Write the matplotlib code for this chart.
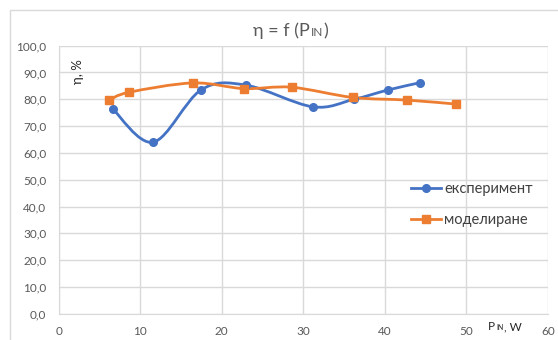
"""Efficiency vs input power: experiment vs model (Excel-style smoothed lines)."""
import matplotlib
matplotlib.use("Agg")
import matplotlib.pyplot as plt
import numpy as np
from matplotlib.path import Path
from matplotlib.patches import PathPatch, Rectangle
from matplotlib.lines import Line2D
from matplotlib.offsetbox import TextArea, HPacker, AnchoredOffsetbox

# --- data ------------------------------------------------------------------
exp_p = [6.6, 11.6, 17.45, 22.95, 31.15, 36.2, 40.4, 44.3]
exp_eta = [76.5, 64.0, 83.5, 85.3, 77.2, 80.0, 83.5, 86.2]

mod_p = [6.15, 8.6, 16.45, 22.7, 28.55, 36.05, 42.75, 48.75]
mod_eta = [79.6, 82.6, 86.1, 84.0, 84.5, 80.7, 79.7, 78.2]

x_ticks = [0, 10, 20, 30, 40, 50, 60]
y_ticks = [0, 10, 20, 30, 40, 50, 60, 70, 80, 90, 100]

BLUE = "#4472C4"
ORANGE = "#ED7D31"
TXT = "#595959"
GRID = "#D9D9D9"

plt.rcParams["font.family"] = ["Lato", "DejaVu Sans"]


def smooth_path(xs, ys, tension=1 / 6):
    """Bezier path through the points, like Excel's 'smoothed line'."""
    pts = np.column_stack([xs, ys])
    verts = [pts[0]]
    codes = [Path.MOVETO]
    n = len(pts)
    for i in range(n - 1):
        p0 = pts[i - 1] if i > 0 else pts[i]
        p1, p2 = pts[i], pts[i + 1]
        p3 = pts[i + 2] if i + 2 < n else pts[i + 1]
        c1 = p1 + (p2 - p0) * tension
        c2 = p2 - (p3 - p1) * tension
        verts += [c1, c2, p2]
        codes += [Path.CURVE4] * 3
    return Path(verts, codes)


W, H = 558, 340
fig = plt.figure(figsize=(W / 100, H / 100), dpi=100)
fig.patches.append(Rectangle((9.5 / W, -0.1), 1.2, (H - 9.5) / H + 0.1,
                             transform=fig.transFigure, fill=False,
                             edgecolor="#D9D9D9", linewidth=1.0))
ax = fig.add_axes([58.7 / W, (H - 313.7) / H, 489.3 / W, 268 / H])

for xs, ys, col, mk in [(exp_p, exp_eta, BLUE, "o"),
                        (mod_p, mod_eta, ORANGE, "s")]:
    ax.add_patch(PathPatch(smooth_path(xs, ys), facecolor="none",
                           edgecolor=col, linewidth=2.0, zorder=3,
                           capstyle="round"))
    ax.plot(xs, ys, linestyle="none", marker=mk, markersize=5.5,
            color=col, zorder=4)

ax.set_xlim(0, 60)
ax.set_ylim(0, 100)
ax.set_xticks(x_ticks)
ax.set_yticks(y_ticks)
ax.set_yticklabels([f"{v:.1f}".replace(".", ",") for v in y_ticks])
ax.tick_params(length=0, labelsize=8.5, labelcolor=TXT)
ax.tick_params(axis="y", pad=9)
ax.tick_params(axis="x", pad=9)
ax.grid(True, color=GRID, linewidth=1.0)
ax.set_axisbelow(True)
for s in ["top", "right"]:
    ax.spines[s].set_visible(False)
ax.spines["bottom"].set_color(GRID)
ax.spines["left"].set_color(GRID)

# y label inside the plot area
ax.text(78.5 / W, (H - 71.5) / H, "η, %", rotation=90, fontsize=9.5,
        color="#262626", ha="center", va="center", transform=fig.transFigure)


def mixed_text(parts, loc_xy, size_big, size_small, color):
    boxes = []
    for txt, small in parts:
        boxes.append(TextArea(txt, textprops=dict(
            fontsize=size_small if small else size_big, color=color)))
    pack = HPacker(children=boxes, align="baseline", pad=0, sep=0.5)
    ab = AnchoredOffsetbox(loc="center", child=pack, frameon=False, pad=0,
                           borderpad=0, bbox_to_anchor=loc_xy,
                           bbox_transform=fig.transFigure)
    fig.add_artist(ab)


# title: η = f (P_IN) with small caps IN on the baseline
mixed_text([("η = f (P", False), ("IN", True), (")", False)],
           (291 / W, (H - 31) / H), 13, 8.5, TXT)
# x-axis label next to the last ticks
mixed_text([("P", False), ("IN", True), (", W", False)],
           (505 / W, (H - 326.5) / H), 8.5, 5, "#262626")

handles = [Line2D([0], [0], color=BLUE, marker="o", lw=2, markersize=5.5),
           Line2D([0], [0], color=ORANGE, marker="s", lw=2, markersize=5.5)]
ax.legend(handles, ["експеримент", "моделиране"], loc="center left",
          bbox_to_anchor=((410.7 - 58.7) / 489.3, (313.7 - 204.8) / 268),
          frameon=False, fontsize=10.5, handlelength=2.1,
          handletextpad=0.2, labelspacing=1.15,
          borderpad=0, borderaxespad=0, labelcolor="#404040")

fig.savefig("out.png", dpi=100)
